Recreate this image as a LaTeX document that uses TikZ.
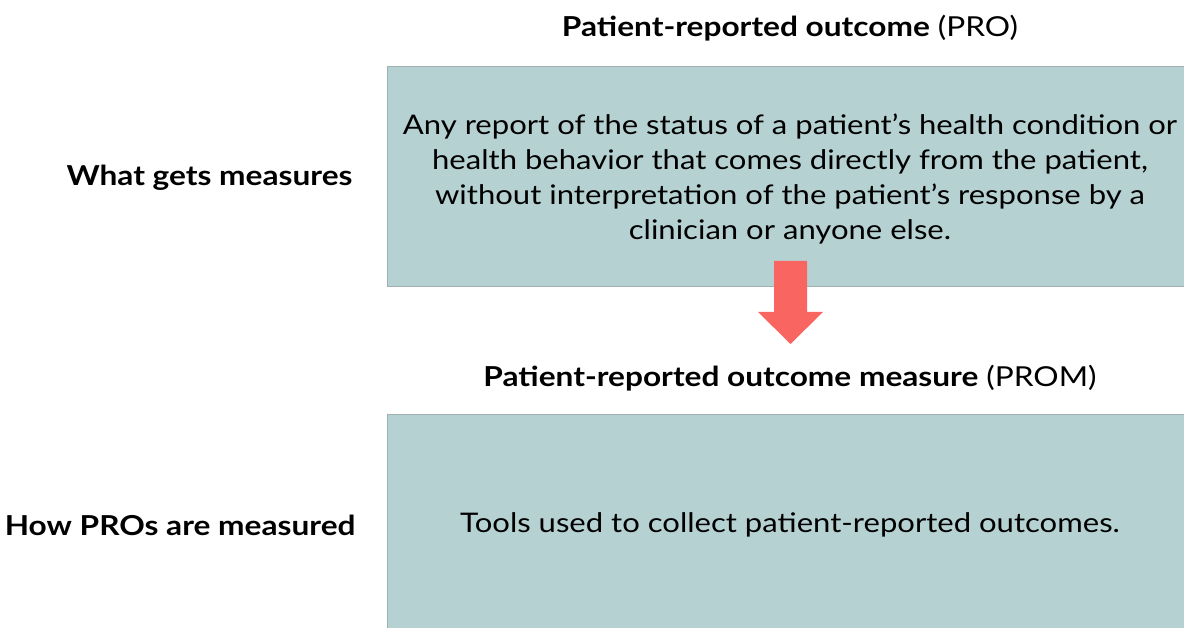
\documentclass[tikz,border=0pt]{standalone}
\usepackage{fontspec}
\setmainfont{Lato}[FakeStretch=1.15]
\usepackage{xcolor}
\definecolor{boxfill}{HTML}{B6D1D2}
\definecolor{boxline}{HTML}{9FB0B1}
\definecolor{arrowred}{HTML}{F96560}
\usetikzlibrary{positioning}

\tikzset{
  box/.style={fill=boxfill, draw=boxline, line width=0.8pt, minimum width=797pt},
  boxtext/.style={align=center, font=\fontsize{27}{35}\selectfont},
  heading/.style={font=\fontsize{27.5}{30}\selectfont},
  sidelabel/.style={anchor=east, font=\fontsize{27.5}{30}\selectfont\bfseries}
}

\begin{document}
\begin{tikzpicture}[x=1pt,y=-1pt]
        \useasboundingbox (0,0) rectangle (1184,628);

        % draw boxes
        \node[box, minimum height=220pt] (pro) at (785.5,176) {};
        \node[box, minimum height=214pt] (prom) at (785.5,521) {};

        % draw box texts
        \node[boxtext] (protext) at (790,179) {Any report of the status of a patient's health condition or\\ health behavior that comes directly from the patient,\\ without interpretation of the patient's response by a\\ clinician or anyone else.};
        \node[boxtext] (promtext) at (790,525) {Tools used to collect patient-reported outcomes.};

        % draw headings
        \node[heading] (protitle) at (790,28) {\textbf{Patient-reported outcome} (PRO)};
        \node[heading] (promtitle) at (790,378) {\textbf{Patient-reported outcome measure} (PROM)};

        % draw side labels
        \node[sidelabel] (what) at (356,178) {What gets measures};
        \node[sidelabel] (how) at (359,525) {How PROs are measured};

        % draw arrow
        \fill[arrowred] (774,261) -- (807,261) -- (807,312) -- (823,312)
          -- (790.5,344) -- (758,312) -- (774,312) -- cycle;
\end{tikzpicture}
\end{document}
